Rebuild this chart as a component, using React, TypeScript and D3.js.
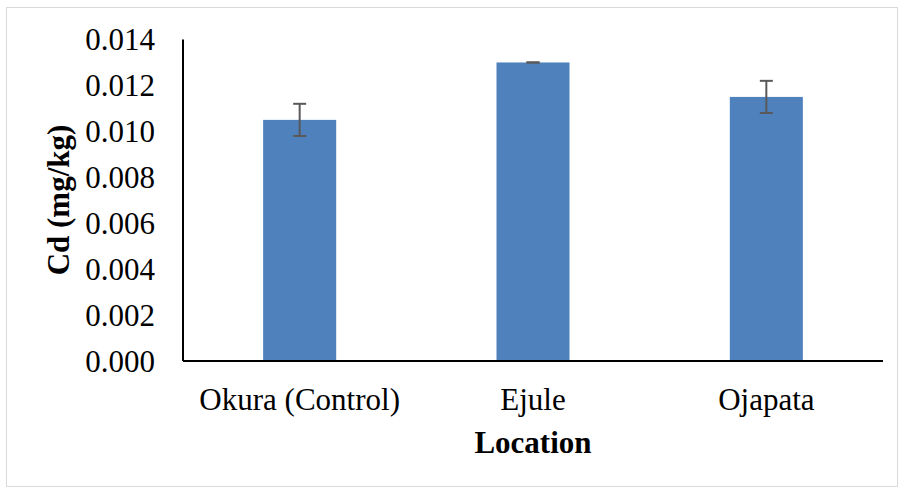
import * as React from 'react';
import * as d3 from 'd3';

const locations = ['Okura (Control)', 'Ejule', 'Ojapata'];
const cdValues = [0.0105, 0.013, 0.0115];
const cdErrors = [0.0007, 0.0, 0.0007];
const yTicks = [0, 0.002, 0.004, 0.006, 0.008, 0.01, 0.012, 0.014];

const W = 899;
const H = 489;
const left = 183;
const right = 883;
const top = 39.5;
const bottom = 361;
const font = "'Liberation Serif', 'Times New Roman', Times, serif";

const App: React.FC = () => {
  const x = d3.scaleBand<string>().domain(locations).range([left, right]).paddingInner(0.687).paddingOuter(0.3435);
  const y = d3.scaleLinear().domain([0, 0.014]).range([bottom, top]);
  const bw = x.bandwidth();
  const cap = 6.5;

  return (
    <svg width={W} height={H} style={{ position: 'absolute', left: 0, top: 0 }}>
      <rect x={0} y={0} width={W} height={H} fill="#fff" />
      <rect x={6.5} y={7.5} width={W - 8} height={H - 10} fill="none" stroke="#d9d9d9" strokeWidth={1} />

      {/* bars */}
      {locations.map((loc, i) => (
        <rect key={loc} x={x(loc)} y={y(cdValues[i])} width={bw} height={bottom - y(cdValues[i])} fill="#4F81BD" />
      ))}

      {/* error bars */}
      <g stroke="#595959" strokeWidth={2}>
        {locations.map((loc, i) => {
          const cx = (x(loc) ?? 0) + bw / 2;
          const hi = y(cdValues[i] + cdErrors[i]);
          const lo = y(cdValues[i] - cdErrors[i]);
          return (
            <g key={loc}>
              <line x1={cx} x2={cx} y1={hi} y2={lo} />
              <line x1={cx - cap} x2={cx + cap} y1={hi} y2={hi} />
              <line x1={cx - cap} x2={cx + cap} y1={lo} y2={lo} />
            </g>
          );
        })}
      </g>

      {/* axes */}
      <line x1={left} x2={left} y1={top} y2={bottom} stroke="#000" strokeWidth={2} />
      <line x1={left} x2={right} y1={bottom} y2={bottom} stroke="#000" strokeWidth={2} />

      <g style={{ fontFamily: font, fontSize: 31 }} fill="#000">
        {yTicks.map(t => (
          <text key={t} x={155} y={y(t)} dy="0.35em" textAnchor="end">{d3.format('.3f')(t)}</text>
        ))}
        {locations.map(loc => (
          <text key={loc} x={(x(loc) ?? 0) + bw / 2} y={410} textAnchor="middle">{loc}</text>
        ))}
        <text x={533} y={453} textAnchor="middle" fontWeight="bold">Location</text>
        <text transform="translate(69,200) rotate(-90)" textAnchor="middle" fontWeight="bold">Cd (mg/kg)</text>
      </g>
    </svg>
  );
};

export default App;
